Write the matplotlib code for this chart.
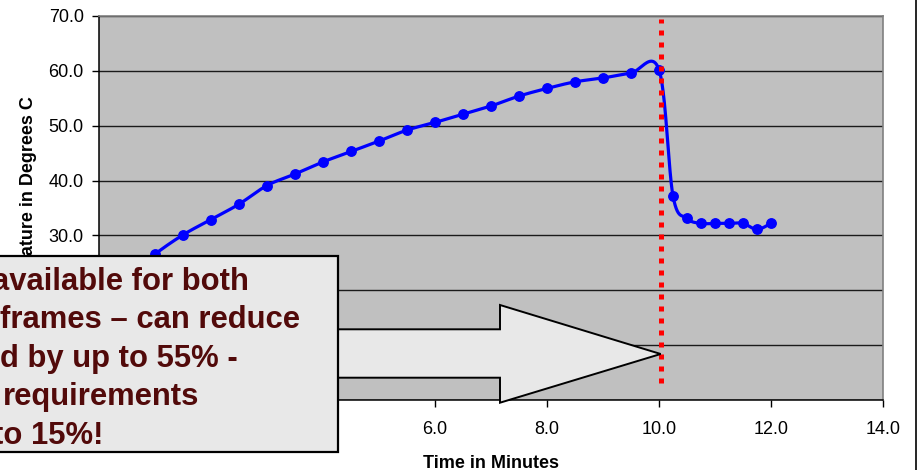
import numpy as np
import matplotlib
matplotlib.use("Agg")
import matplotlib.pyplot as plt
from matplotlib.patches import Polygon, Rectangle
from matplotlib.lines import Line2D

plt.rcParams['font.family'] = ['Liberation Sans', 'DejaVu Sans']

# Temperature readings (minutes, degrees C)
time_min = [0.0, 0.5, 1.0, 1.5, 2.0, 2.5, 3.0, 3.5, 4.0, 4.5, 5.0, 5.5, 6.0,
            6.5, 7.0, 7.5, 8.0, 8.5, 9.0, 9.5, 10.0, 10.25, 10.5, 10.75,
            11.0, 11.25, 11.5, 11.75, 12.0]
temp_c = [18.5, 22.5, 26.6, 30.1, 32.9, 35.7, 39.1, 41.2, 43.4, 45.3, 47.2,
          49.2, 50.6, 52.1, 53.6, 55.4, 56.8, 58.0, 58.7, 59.6, 60.2, 37.2,
          33.1, 32.2, 32.2, 32.2, 32.2, 31.1, 32.2]
cutoff_time = 10.0

x_ticks = [0.0, 2.0, 4.0, 6.0, 8.0, 10.0, 12.0, 14.0]
y_ticks = [0.0, 10.0, 20.0, 30.0, 40.0, 50.0, 60.0, 70.0]

callout_lines = ["available for both", "frames \u2013 can reduce",
                 "d by up to 55% -", "requirements", "to 15%!"]

W, H = 923, 470
fig = plt.figure(figsize=(W / 100, H / 100), dpi=100)
ax = fig.add_axes([99 / W, 1 - 400 / H, 784 / W, 384 / H])
ax.set_facecolor('#c0c0c0')
ax.set_xlim(0, 14)
ax.set_ylim(0, 70)
ax.set_xticks(x_ticks)
ax.set_yticks(y_ticks)
ax.set_xticklabels([f"{v:.1f}" for v in x_ticks])
ax.set_yticklabels([f"{v:.1f}" for v in y_ticks])
ax.tick_params(labelsize=13, length=5, width=1.0, color='black')
ax.tick_params(axis='x', pad=10)
ax.tick_params(axis='y', pad=6)
for side in ('top', 'right'):
    ax.spines[side].set_color('#808080')
    ax.spines[side].set_linewidth(1.2)
for side in ('left', 'bottom'):
    ax.spines[side].set_color('black')
    ax.spines[side].set_linewidth(1.1)
ax.yaxis.grid(True, color='#1a1a1a', linewidth=1.0)
ax.set_axisbelow(True)

ax.set_xlabel("Time in Minutes", fontsize=13, fontweight='bold', labelpad=12)
ax.set_ylabel("Temperature in Degrees C", fontsize=13, fontweight='bold', labelpad=8)


def smooth_curve(axis, xs, ys, n=40):
    """Cubic Bezier smoothing through the points, computed in display space."""
    pts = axis.transData.transform(np.column_stack([xs, ys]))
    out = []
    m = len(pts)
    for i in range(m - 1):
        p0 = pts[max(i - 1, 0)]
        p1 = pts[i]
        p2 = pts[i + 1]
        p3 = pts[min(i + 2, m - 1)]
        c1 = p1 + (p2 - p0) / 6.0
        c2 = p2 - (p3 - p1) / 6.0
        t = np.linspace(0, 1, n)[:, None]
        seg = ((1 - t) ** 3) * p1 + 3 * ((1 - t) ** 2) * t * c1 \
            + 3 * (1 - t) * t ** 2 * c2 + t ** 3 * p2
        out.append(seg if i == 0 else seg[1:])
    curve = np.vstack(out)
    return axis.transData.inverted().transform(curve)


curve = smooth_curve(ax, time_min, temp_c)
ax.plot(curve[:, 0], curve[:, 1], color='#0000ff', linewidth=2.3, zorder=3)
ax.plot(time_min, temp_c, linestyle='none', marker='o', markersize=6.8,
        color='#0000ff', zorder=4)

# dotted marker at the cutoff time
ax.axvline(cutoff_time + 0.04, ymin=0.044, ymax=0.992, color='#ff0000',
           linewidth=3.6, linestyle=(0, (1.0, 1.4)), dash_capstyle='butt',
           zorder=5)


def fig_xy(px, py):
    return (px / W, 1 - py / H)


# block arrow pointing at the cutoff line
arrow_px = [(300, 329.3), (500, 329.3), (500, 305), (660.7, 354), (500, 402.7),
            (500, 377.7), (300, 377.7)]
arrow = Polygon([fig_xy(*p) for p in arrow_px], closed=True,
                transform=fig.transFigure, facecolor='#e8e8e8',
                edgecolor='black', linewidth=1.4, zorder=10)
fig.patches.append(arrow)

# callout box
box = Rectangle(fig_xy(-5, 451.5), 342.5 / W, 196 / H, transform=fig.transFigure,
                facecolor='#e8e8e8', edgecolor='black', linewidth=1.6, zorder=11)
fig.patches.append(box)

line_x = [-8, 0, 0, 3, -7]
for i, (txt, lx) in enumerate(zip(callout_lines, line_x)):
    fx, fy = fig_xy(lx, 290 + i * 38.5)
    fig.text(fx, fy, txt, fontsize=22.3, fontweight='bold', color='#520a0a',
             ha='left', va='baseline', zorder=12)

# frame line on the right side
fig.lines.append(Line2D([915.7 / W, 915.7 / W], [0, 1], transform=fig.transFigure,
                        color='black', linewidth=1.2))

fig.savefig("out.png", dpi=100)
